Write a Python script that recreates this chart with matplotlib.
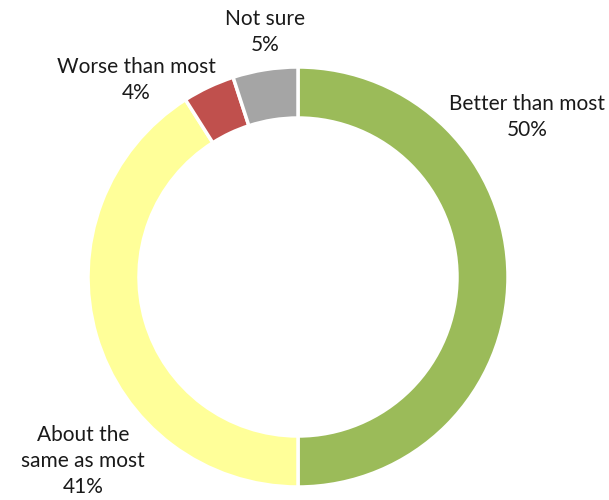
import matplotlib.pyplot as plt

labels = ["Better than most", "About the\nsame as most", "Worse than most", "Not sure"]
values = [50, 41, 4, 5]
colors = ["#9BBB59", "#FFFF99", "#C0504D", "#A5A5A5"]

# label anchor points (pixel coordinates, origin at bottom-left)
label_pos = [(527, 383), (83, 39), (136, 420), (265, 468)]

plt.rcParams["font.family"] = ["Lato", "DejaVu Sans"]

fig = plt.figure(figsize=(6.09, 5.0), dpi=100)
ax = fig.add_axes([0, 0, 1, 1])
ax.set_xlim(0, 609)
ax.set_ylim(0, 500)
ax.set_aspect("equal")
ax.axis("off")

ax.pie(values, colors=colors, startangle=90, counterclock=False,
       center=(298, 223), radius=210,
       wedgeprops=dict(width=51, edgecolor="white", linewidth=2.5))
ax.set_xlim(0, 609)
ax.set_ylim(0, 500)

for lab, val, (x, y) in zip(labels, values, label_pos):
    ax.text(x, y, f"{lab}\n{val}%", ha="center", va="center",
            fontsize=15, color="#1a1a1a", linespacing=1.4)

fig.savefig("out.png", dpi=100)
